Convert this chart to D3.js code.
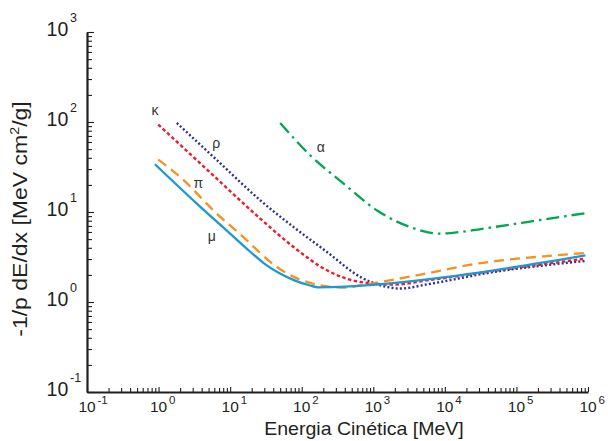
<!DOCTYPE html>
<html>
<head>
<meta charset="utf-8">
<script src="https://cdn.jsdelivr.net/npm/d3@7"></script>
<style>
  html, body { margin: 0; padding: 0; background: #ffffff; }
  svg { display: block; font-family: "Liberation Sans", Arial, Helvetica, sans-serif; }
</style>
</head>
<body>
<svg id="chart" width="608" height="441"></svg>
<script>
// ---------------- data ----------------
const muonE = [0.89, 3.42, 10, 18.95, 30.7, 49.7, 80.6, 130.6, 169, 403, 900, 6970, 48200, 920000];
const muonS = [33.9, 12.4, 5.75, 3.64, 2.64, 2.07, 1.73, 1.525, 1.455, 1.48, 1.545, 1.82, 2.25, 3.3];

const pionE = [0.99, 2.0, 6.5, 17.1, 26.3, 45, 77, 131, 225, 385, 908, 4080, 28200, 241000, 920000];
const pionS = [38.2, 24.5, 9.6, 4.85, 3.5, 2.45, 1.90, 1.63, 1.49, 1.445, 1.60, 1.98, 2.67, 3.22, 3.5];

const kaonE = [0.99, 5.0, 26.3, 77, 225, 658, 1920, 5640, 48200, 920000];
const kaonS = [93.6, 28.5, 8.45, 4.08, 2.25, 1.67, 1.56, 1.74, 2.21, 3.03];

const rhoE = [1.80, 6.8, 26.3, 77, 225, 658, 1555, 2390, 5640, 47700, 920000];
const rhoS = [97.5, 36.6, 13.5, 6.8, 3.6, 1.90, 1.47, 1.41, 1.57, 2.15, 2.86];

const alphaE = [50, 131, 385, 1127, 3290, 8650, 16500, 48200, 141000, 950000];
const alphaS = [97.5, 42.7, 20.7, 10.4, 6.8, 5.75, 6.0, 6.8, 7.74, 9.75];

const seriesNames = ["μ", "π", "κ", "ρ", "α"];
const labelE = [5.55, 3.6, 0.89, 6.37, 185];
const labelS = [5.41, 21, 135, 57.9, 52.7];

const xDomain = [0.1, 1e6];
const yDomain = [0.1, 1e3];
const xExponents = [-1, 0, 1, 2, 3, 4, 5, 6];
const yExponents = [-1, 0, 1, 2, 3];
const xTitle = "Energia Cinética [MeV]";
const yTitleParts = ["-1/p dE/dx [MeV cm", "2", "/g]"];

// ---------------- styles ----------------
const styles = [
  { color: "#1b98d6", width: 2.3, dash: null },          // mu
  { color: "#f7901e", width: 2.3, dash: "10,6" },        // pi
  { color: "#ec1c2a", width: 2.4, dash: "3.5,2.5" },     // kappa
  { color: "#2e3192", width: 2.4, dash: "2,2.2" },       // rho
  { color: "#00a651", width: 2.3, dash: "13,5,2.5,5" }   // alpha
];
const ink = "#231f20";

const svg = d3.select("#chart");
const x = d3.scaleLog().domain(xDomain).range([87, 588]);
const y = d3.scaleLog().domain(yDomain).range([392, 32]);

// ---------------- axes ----------------
const minorX = [];
for (let e = -1; e < 6; e++) for (let m = 1; m <= 9; m++) minorX.push(m * Math.pow(10, e));
minorX.push(1e6);
const minorY = [];
for (let e = -1; e < 3; e++) for (let m = 1; m <= 9; m++) minorY.push(m * Math.pow(10, e));
minorY.push(1e3);
const isMajor = v => Math.abs(Math.log10(v) - Math.round(Math.log10(v))) < 1e-9;

const gx = svg.append("g").attr("transform", `translate(0,${y(0.1)})`)
  .call(d3.axisBottom(x).tickValues(minorX).tickSizeOuter(0).tickSizeInner(-4).tickFormat(""));
gx.selectAll(".tick line").attr("y2", d => isMajor(d) ? -5 : -4);

const gy = svg.append("g").attr("transform", `translate(${x(0.1)},0)`)
  .call(d3.axisLeft(y).tickValues(minorY).tickSizeOuter(0).tickSizeInner(-5).tickFormat(""));
gy.selectAll(".tick line").attr("x2", d => isMajor(d) ? 7 : 5);

[gx, gy].forEach(g => {
  g.select(".domain").attr("stroke", ink).attr("stroke-width", 2.2);
  g.selectAll(".tick line").attr("stroke", ink).attr("stroke-width", 1.1);
});

// tick labels (10 with superscript exponent)
xExponents.forEach(e => {
  const px = x(Math.pow(10, e));
  svg.append("text").attr("x", px).attr("y", 412)
    .attr("text-anchor", "middle").attr("font-size", 15.5).attr("fill", ink).text("10");
  svg.append("text").attr("x", px + 10.5).attr("y", 403.5)
    .attr("font-size", 11.5).attr("fill", ink).text(String(e));
});
yExponents.forEach(e => {
  const py = y(Math.pow(10, e));
  svg.append("text").attr("x", 68.3).attr("y", py + 3.8)
    .attr("text-anchor", "end").attr("font-size", 19.5).attr("fill", ink).text("10");
  svg.append("text").attr("x", 70).attr("y", py - 10.5)
    .attr("font-size", 12.5).attr("fill", ink).text(String(e));
});

// axis titles
svg.append("text").attr("transform", "translate(364,434.7) scale(1.085,1)")
  .attr("text-anchor", "middle")
  .attr("font-size", 18).attr("fill", ink).text(xTitle);

const yt = svg.append("text").attr("transform", "translate(27,219) rotate(-90) scale(1.15,1)")
  .attr("text-anchor", "middle").attr("font-size", 20).attr("fill", ink);
yt.append("tspan").text(yTitleParts[0]);
yt.append("tspan").attr("dy", -8).attr("font-size", 12.5).text(yTitleParts[1]);
yt.append("tspan").attr("dy", 8).text(yTitleParts[2]);

// ---------------- curves ----------------
const allE = [muonE, pionE, kaonE, rhoE, alphaE];
const allS = [muonS, pionS, kaonS, rhoS, alphaS];
const line = d3.line().x(d => x(d[0])).y(d => y(d[1])).curve(d3.curveMonotoneX);

// draw order: alpha, rho, kappa, pi, mu (mu on top)
[4, 3, 2, 1, 0].forEach(i => {
  const pts = allE[i].map((e, k) => [e, allS[i][k]]);
  const p = svg.append("path").datum(pts).attr("d", line)
    .attr("fill", "none").attr("stroke", styles[i].color)
    .attr("stroke-width", styles[i].width);
  if (styles[i].dash) p.attr("stroke-dasharray", styles[i].dash);
});

// curve labels
seriesNames.forEach((n, i) => {
  svg.append("text").attr("x", x(labelE[i])).attr("y", y(labelS[i]))
    .attr("text-anchor", "middle").attr("dominant-baseline", "central")
    .attr("font-size", 14).attr("fill", "#333333").text(n);
});
</script>
</body>
</html>
